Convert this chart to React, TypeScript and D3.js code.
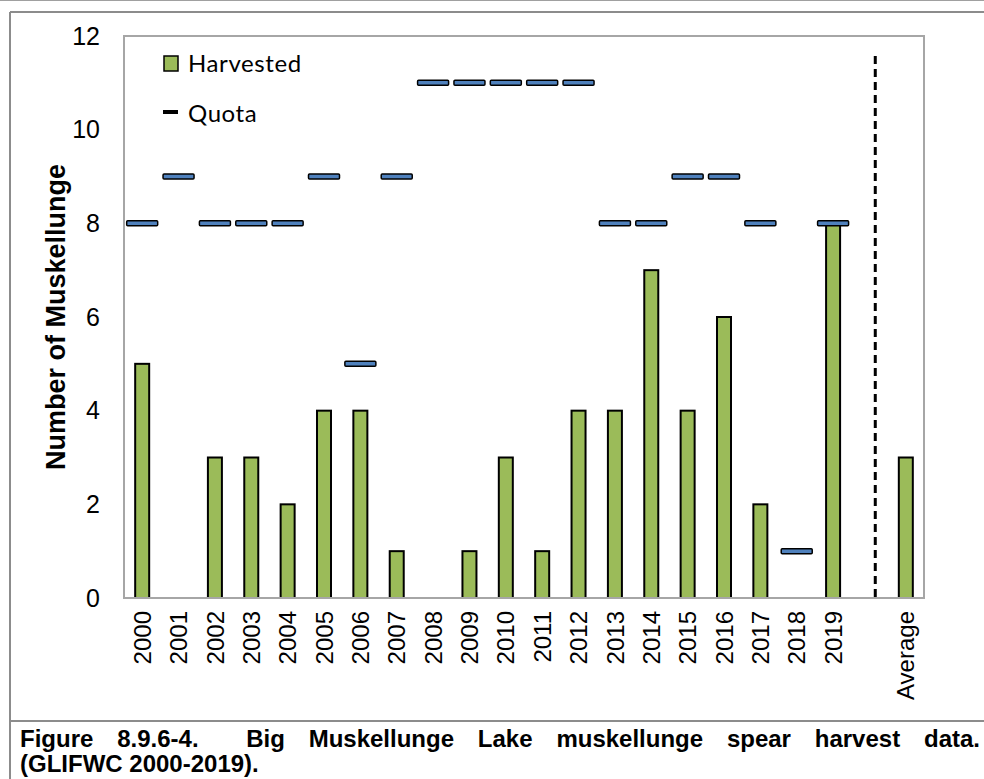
import { useEffect, useRef } from "react";
import * as d3 from "d3";

const categories = [
  "2000", "2001", "2002", "2003", "2004", "2005", "2006", "2007", "2008", "2009",
  "2010", "2011", "2012", "2013", "2014", "2015", "2016", "2017", "2018", "2019",
  "", "Average",
];
const harvested = [5, 0, 3, 3, 2, 4, 4, 1, 0, 1, 3, 1, 4, 4, 7, 4, 6, 2, 0, 8, null, 3];
const quota = [8, 9, 8, 8, 8, 9, 5, 9, 11, 11, 11, 11, 11, 8, 8, 9, 9, 8, 1, 8, null, null];
const yTicks = [0, 2, 4, 6, 8, 10, 12];
const captionLine1 = "Figure 8.9.6-4.  Big Muskellunge Lake muskellunge spear harvest data.";
const captionLine2 = "(GLIFWC 2000-2019).";

const W = 984;
const H = 779;
const margin = { top: 36, right: 60, bottom: 181, left: 124 };

export default function App() {
  const captionRef = useRef<SVGTextElement>(null);

  // justify the first caption line like the Word original
  useEffect(() => {
    const el = captionRef.current;
    if (!el) return;
    el.setAttribute("word-spacing", "0");
    const natural = el.getComputedTextLength();
    const spaces = (captionLine1.match(/ /g) || []).length;
    const target = 980 - 20;
    el.setAttribute("word-spacing", String(Math.max(0, (target - natural) / spaces)));
  }, []);

  const x = d3
    .scaleBand()
    .domain(categories.map((c, i) => c + "|" + i))
    .range([margin.left, W - margin.right])
    .padding(0);
  const y = d3.scaleLinear().domain([0, 12]).range([H - margin.bottom, margin.top]);
  const key = (i: number) => categories[i] + "|" + i;
  const step = x.step();
  const cx = (i: number) => (x(key(i)) || 0) + step / 2;
  const barW = 14;
  const quotaW = 31;
  const dashX = (x(key(20)) || 0) + step * 0.66;

  const axisFont = "'Liberation Sans', Arial, sans-serif";
  const legendFont = "Lato, 'Open Sans', sans-serif";

  return (
    <svg
      width={W}
      height={H}
      style={{ position: "absolute", left: 0, top: 0, background: "#fff" }}
    >
      {/* outer frame */}
      <line x1={0} x2={W} y1={0.5} y2={0.5} stroke="#a0a0a0" strokeWidth={1} />
      <line x1={10} x2={W} y1={12} y2={12} stroke="#8c8c8c" strokeWidth={2} />
      <line x1={10} x2={10} y1={12} y2={H} stroke="#8c8c8c" strokeWidth={2} />
      <line x1={10} x2={W} y1={721} y2={721} stroke="#8c8c8c" strokeWidth={2} />

      {/* plot area border */}
      <rect
        x={margin.left}
        y={margin.top}
        width={W - margin.left - margin.right}
        height={H - margin.top - margin.bottom}
        fill="none"
        stroke="#a6a6a6"
        strokeWidth={2}
      />

      {/* y ticks */}
      {yTicks.map((t) => (
        <text
          key={t}
          x={margin.left - 24}
          y={y(t)}
          dy="0.35em"
          textAnchor="end"
          fontFamily={axisFont}
          fontSize={25}
          fill="#000"
        >
          {t}
        </text>
      ))}
      <text
        transform={`translate(65,${(y(0) + y(12)) / 2}) rotate(-90)`}
        textAnchor="middle"
        fontFamily={axisFont}
        fontWeight="bold"
        fontSize={27}
      >
        Number of Muskellunge
      </text>

      {/* bars */}
      {harvested.map((v, i) =>
        v == null || v === 0 ? null : (
          <rect
            key={"b" + i}
            x={cx(i) - barW / 2}
            y={y(v)}
            width={barW}
            height={y(0) - y(v)}
            fill="#9bbb59"
            stroke="#000"
            strokeWidth={2}
          />
        )
      )}

      {/* quota markers */}
      {quota.map((q, i) =>
        q == null ? null : (
          <rect
            key={"q" + i}
            x={cx(i) - quotaW / 2}
            y={y(q) - 2.5}
            width={quotaW}
            height={5}
            rx={1}
            fill="#4f81bd"
            stroke="#000"
            strokeWidth={1.5}
          />
        )
      )}

      {/* separator between years and average */}
      <line
        x1={dashX}
        x2={dashX}
        y1={56}
        y2={y(0)}
        stroke="#000"
        strokeWidth={3}
        strokeDasharray="8,5"
      />

      <line x1={margin.left} x2={W - margin.right} y1={y(0)} y2={y(0)} stroke="#a6a6a6" strokeWidth={2} />

      {/* x labels */}
      {categories.map((c, i) =>
        c === "" ? null : (
          <text
            key={"x" + i}
            transform={`translate(${cx(i)},${y(0) + 13}) rotate(-90)`}
            textAnchor="end"
            dy="0.36em"
            fontFamily={axisFont}
            fontSize={24}
          >
            {c}
          </text>
        )
      )}

      {/* legend */}
      <rect x={164} y={56} width={14} height={15} fill="#9bbb59" stroke="#000" strokeWidth={1.5} />
      <text x={188} y={72} fontFamily={legendFont} fontSize={24} letterSpacing={0.6}>
        Harvested
      </text>
      <line x1={163} x2={178} y1={112} y2={112} stroke="#000" strokeWidth={4} />
      <text x={188} y={122} fontFamily={legendFont} fontSize={24} letterSpacing={0.6}>
        Quota
      </text>

      {/* caption */}
      <text
        ref={captionRef}
        x={20}
        y={747}
        fontFamily={axisFont}
        fontWeight="bold"
        fontSize={24}
        style={{ whiteSpace: "pre" }}
      >
        {captionLine1}
      </text>
      <text x={20} y={772} fontFamily={axisFont} fontWeight="bold" fontSize={24}>
        {captionLine2}
      </text>
    </svg>
  );
}
